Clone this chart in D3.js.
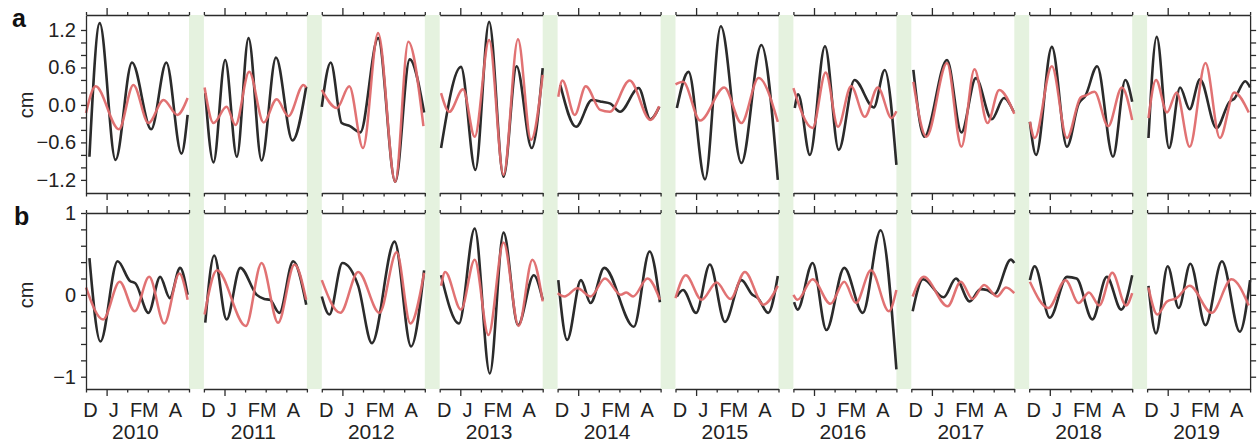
<!DOCTYPE html>
<html>
<head>
<meta charset="utf-8">
<script src="https://cdn.jsdelivr.net/npm/d3@7"></script>
<style>
  body { margin: 0; background: #fff; }
  svg { display: block; font-family: "Liberation Sans", Arial, Helvetica, sans-serif; }
</style>
</head>
<body>
<svg id="chart" width="1258" height="445"></svg>
<script>
// winters, one panel each (x = days since 1 Dec)
const years = ['2010', '2011', '2012', '2013', '2014', '2015', '2016', '2017', '2018', '2019'];
const monthTicks = [0, 30, 60, 90, 120, 150];
const monthText = 'D  J  FM  A';
const aTicks = [-1.2, -1.0, -0.8, -0.6, -0.4, -0.2, 0, 0.2, 0.4, 0.6, 0.8, 1.0, 1.2];
const aLabels = [-1.2, -0.6, 0, 0.6, 1.2];
const bTicks = [-1.0, -0.8, -0.6, -0.4, -0.2, 0, 0.2, 0.4, 0.6, 0.8, 1.0];
const bLabels = [-1, 0, 1];

// panel a, black and red series, [day, cm]
const aBlack = [
  [[5,-0.83],[20,1.31],[43,-0.88],[67,0.68],[95,-0.39],[117,0.68],[139,-0.78],[148,-0.16]],
  [[2,0.19],[14,-0.92],[31,0.72],[48,-0.83],[65,1.07],[84,-0.89],[105,0.76],[129,-0.57],[149,0.29]],
  [[0,-0.03],[13,0.68],[29,-0.29],[41,-0.34],[56,-0.44],[82,1.07],[107,-1.23],[128,0.73],[149,-0.12]],
  [[2,-0.69],[31,0.61],[52,-1.04],[72,1.33],[93,-1.15],[112,0.62],[134,-0.69],[150,0.59]],
  [[4,0.32],[27,-0.35],[50,0.08],[65,0.05],[77,0.02],[91,-0.11],[118,0.27],[135,-0.23],[148,-0.03]],
  [[2,-0.05],[19,0.53],[43,-1.19],[66,1.26],[96,-0.93],[125,0.96],[149,-1.2]],
  [[2,-0.05],[7,0.17],[24,-0.8],[46,0.94],[66,-0.72],[89,0.4],[117,-0.04],[133,0.56],[150,-0.96]],
  [[3,0.56],[19,-0.51],[52,0.72],[73,-0.44],[94,0.43],[117,-0.23],[135,0.11],[149,-0.11]],
  [[1,-0.27],[10,-0.8],[33,0.93],[55,-0.67],[72,0.02],[82,0.15],[99,0.62],[122,-0.83],[140,0.4],[150,0.05]],
  [[2,-0.53],[14,1.09],[32,-0.69],[48,0.28],[62,-0.07],[77,0.41],[101,-0.37],[120,0.05],[127,0.1],[143,0.38],[150,0.28]]
];
const aRed = [
  [[0,-0.13],[14,0.3],[48,-0.39],[69,0.32],[91,-0.29],[113,0.08],[133,-0.16],[148,0.11]],
  [[1,0.28],[14,-0.29],[33,-0.03],[46,-0.32],[66,0.53],[87,-0.28],[106,0.09],[123,-0.18],[145,0.32],[149,0.28]],
  [[0,0.24],[22,-0.05],[40,0.3],[60,-0.69],[82,1.15],[107,-1.23],[126,1.01],[148,-0.34]],
  [[2,0.19],[14,-0.11],[34,0.25],[51,-0.51],[72,1.04],[93,-1.12],[114,1.05],[133,-0.56],[150,0.48]],
  [[1,0.13],[7,0.39],[25,-0.16],[41,0.3],[62,-0.08],[76,-0.11],[105,0.39],[135,-0.24],[148,-0.02]],
  [[0,0.33],[11,0.37],[36,-0.25],[71,0.28],[96,-0.29],[121,0.43],[149,-0.27]],
  [[0,0.27],[28,-0.37],[47,0.52],[65,-0.35],[84,0.3],[104,-0.19],[123,0.28],[143,-0.21],[150,-0.1]],
  [[3,0.37],[22,-0.51],[52,0.67],[73,-0.67],[92,0.57],[111,-0.29],[128,0.24],[150,-0.14]],
  [[1,-0.27],[8,-0.53],[33,0.62],[55,-0.53],[75,0.12],[82,0.15],[95,0.21],[115,-0.34],[135,0.28],[150,-0.24]],
  [[2,-0.21],[13,0.4],[29,-0.12],[43,0.2],[62,-0.67],[85,0.67],[106,-0.53],[127,0.2],[148,-0.12]]
];

// panel b
const bBlack = [
  [[5,0.45],[21,-0.57],[46,0.41],[64,0.17],[72,0.14],[91,-0.22],[108,0.22],[122,-0.04],[137,0.33],[148,0]],
  [[2,-0.34],[15,0.48],[33,-0.3],[53,0.33],[77,0],[88,-0.05],[96,-0.06],[110,-0.22],[130,0.41],[149,-0.12]],
  [[0,-0.02],[11,-0.24],[30,0.39],[53,0.11],[73,-0.59],[106,0.65],[130,-0.63],[149,0.3]],
  [[2,0.24],[28,-0.35],[51,0.81],[73,-0.96],[93,0.76],[114,-0.37],[137,0.24],[150,-0.06]],
  [[1,0.18],[14,-0.55],[34,0.18],[48,-0.1],[68,0.33],[111,-0.39],[134,0.53],[149,-0.09]],
  [[2,-0.02],[11,0.06],[30,-0.22],[50,0.37],[72,-0.33],[96,0.18],[112,0.0],[120,-0.04],[135,-0.22],[149,0.23]],
  [[1,-0.09],[6,-0.18],[28,0.39],[48,-0.43],[74,0.33],[101,-0.22],[127,0.79],[150,-0.91]],
  [[2,-0.2],[17,0.19],[47,-0.03],[65,0.2],[85,-0.08],[101,0.07],[110,0.06],[121,0.01],[145,0.43],[150,0.39]],
  [[1,0.18],[8,0.35],[30,-0.28],[55,0.22],[69,0.2],[92,-0.3],[113,0.22],[134,-0.18],[150,0.24]],
  [[2,0.11],[13,-0.47],[30,0.35],[46,-0.16],[63,0.38],[85,-0.37],[109,0.41],[135,-0.45],[150,0.18]]
];
const bRed = [
  [[0,0.09],[25,-0.3],[49,0.16],[71,-0.2],[92,0.22],[114,-0.35],[136,0.26],[148,-0.06]],
  [[1,-0.24],[19,0.3],[61,-0.38],[84,0.39],[108,-0.34],[132,0.37],[149,-0.06]],
  [[0,0.18],[27,-0.22],[53,0.28],[84,-0.22],[109,0.52],[129,-0.35],[149,0.27]],
  [[2,0.11],[8,0.28],[31,-0.18],[51,0.43],[71,-0.49],[93,0.64],[115,-0.38],[135,0.43],[150,-0.08]],
  [[0,0.02],[10,-0.02],[29,0.08],[48,-0.02],[69,0.2],[92,0.0],[100,0.03],[110,-0.02],[131,0.2],[149,-0.06]],
  [[0,-0.04],[15,0.24],[38,-0.06],[60,0.15],[80,-0.05],[101,0.28],[128,-0.12],[149,0.11]],
  [[0,0],[6,-0.06],[28,0.19],[54,-0.11],[74,0.16],[91,-0.1],[113,0.3],[139,-0.2],[150,0.06]],
  [[2,-0.02],[18,0.22],[53,-0.14],[72,0.16],[89,-0.05],[106,0.12],[125,-0.02],[138,0.09],[150,0.02]],
  [[1,0.16],[28,-0.16],[53,0.18],[72,-0.1],[87,0.03],[102,-0.13],[121,0.27],[141,-0.13],[150,0.02]],
  [[2,0.09],[15,-0.24],[29,-0.08],[43,-0.04],[62,0.11],[94,-0.22],[123,0.19],[148,-0.13]]
];

// layout
const svg = d3.select('#chart'),
      left0 = 86, step = 117.9, panelW = 103,
      ink = '#2b2b2b', red = '#df6a6c', green = '#e5f2df';

const rows = [
  { tag: 'a', black: aBlack, red: aRed, ticks: aTicks, labels: aLabels,
    y: d3.scaleLinear().domain([-1.41, 1.44]).range([193, 15]),
    fmt: d3.format('.1f') },
  { tag: 'b', black: bBlack, red: bRed, ticks: bTicks, labels: bLabels,
    y: d3.scaleLinear().domain([-1.15, 1.0]).range([389, 213]),
    fmt: d3.format('d') }
];

const panelX = i => d3.scaleLinear().domain([0, 150]).range([left0 + i * step, left0 + i * step + panelW]);

// green gaps between winters
svg.append('g').selectAll('rect')
  .data(years.slice(1))
  .join('rect')
  .attr('x', (d, i) => panelX(i).range()[1])
  .attr('width', (d, i) => panelX(i + 1).range()[0] - panelX(i).range()[1])
  .attr('y', rows[0].y.range()[1])
  .attr('height', rows[1].y.range()[0] - rows[0].y.range()[1])
  .attr('fill', green);

function styleAxis(g) {
  g.selectAll('path, line').attr('stroke', ink).attr('stroke-width', 1.3);
  g.selectAll('text').remove();
}

rows.forEach(row => {
  const [yBot, yTop] = row.y.range();

  years.forEach((yr, i) => {
    const x = panelX(i);

    // top and bottom month axes
    const top = svg.append('g').attr('transform', `translate(0,${yTop})`)
      .call(d3.axisTop(x).tickValues(monthTicks).tickSize(3).tickSizeOuter(0))
      .call(styleAxis);
    top.selectAll('.tick line').filter(d => d === 30).attr('y2', -7);

    const bot = svg.append('g').attr('transform', `translate(0,${yBot})`)
      .call(d3.axisBottom(x).tickValues(monthTicks).tickSize(3.5).tickSizeOuter(0))
      .call(styleAxis);
    bot.selectAll('.tick line').filter(d => d === 30).attr('y2', 7);

    const line = d3.line()
      .x(d => x(d[0]))
      .y(d => row.y(d[1]))
      .curve(d3.curveMonotoneX);

    svg.append('path').datum(row.black[i])
      .attr('d', line).attr('fill', 'none')
      .attr('stroke', ink).attr('stroke-width', 2.6);

    svg.append('path').datum(row.red[i])
      .attr('d', line).attr('fill', 'none')
      .attr('stroke', red).attr('stroke-width', 2.5).attr('stroke-opacity', 0.95);
  });

  // left axis with labels
  const yl = svg.append('g').attr('transform', `translate(${left0},0)`)
    .call(d3.axisLeft(row.y).tickValues(row.ticks).tickSize(5).tickSizeOuter(0)
      .tickFormat(d => row.labels.some(v => Math.abs(v - d) < 1e-6) ? row.fmt(d) : ''));
  yl.selectAll('path, line').attr('stroke', ink).attr('stroke-width', 1.3);
  yl.selectAll('text').attr('font-size', 20).attr('fill', '#222')
    .attr('font-family', '"Liberation Sans", Arial, sans-serif').attr('x', -10);

  // right axis, ticks only
  svg.append('g').attr('transform', `translate(${panelX(years.length - 1).range()[1]},0)`)
    .call(d3.axisRight(row.y).tickValues(row.ticks).tickSize(6).tickSizeOuter(0))
    .call(styleAxis);

  // unit label
  svg.append('text')
    .attr('transform', `translate(33,${row.y(0)}) rotate(-90)`)
    .attr('text-anchor', 'middle')
    .attr('font-size', 20).attr('fill', '#222')
    .text('cm');

  // panel letter
  svg.append('text')
    .attr('x', row.tag === 'a' ? 12 : 14)
    .attr('y', yTop + 12)
    .attr('font-size', 25).attr('font-weight', 'bold').attr('fill', '#111')
    .text(row.tag);
});

// month letters and years under panel b
const xLab = svg.append('g');
years.forEach((yr, i) => {
  const x = panelX(i);
  xLab.append('text')
    .attr('x', x(68)).attr('y', 417)
    .attr('text-anchor', 'middle')
    .attr('xml:space', 'preserve').style('white-space', 'pre')
    .attr('font-size', 20).attr('fill', '#222')
    .text(monthText);
  xLab.append('text')
    .attr('x', x(72)).attr('y', 439)
    .attr('text-anchor', 'middle')
    .attr('font-size', 21).attr('fill', '#222')
    .text(yr);
});
</script>
</body>
</html>
